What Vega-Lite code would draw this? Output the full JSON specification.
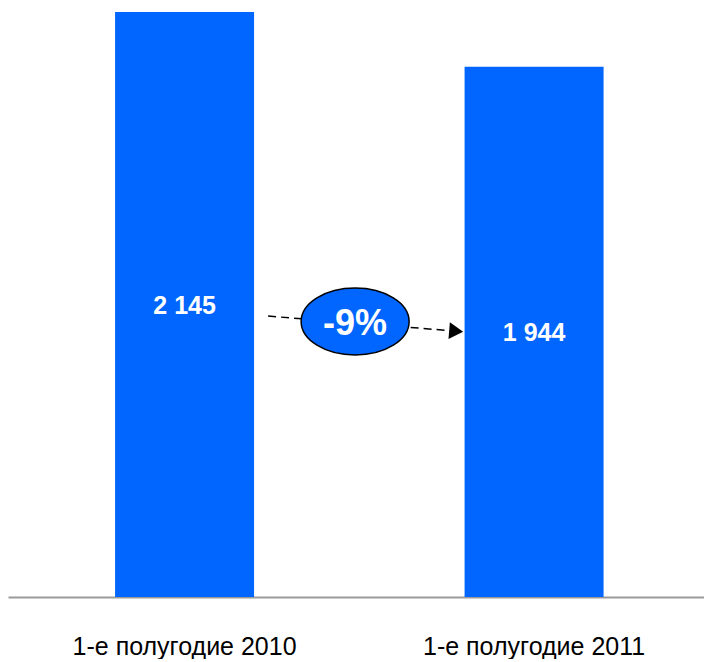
{
  "$schema": "https://vega.github.io/schema/vega-lite/v6.json",
  "width": 696,
  "height": 597,
  "padding": {"left": 8, "top": 0, "right": 0, "bottom": 0},
  "autosize": {"type": "pad"},
  "background": "white",
  "config": {"view": {"stroke": null}},
  "datasets": {
    "bars": [
      {"period": "1-е полугодие 2010", "value": 2145, "label": "2 145"},
      {"period": "1-е полугодие 2011", "value": 1944, "label": "1 944"}
    ],
    "note": [
      {"x": 0.239, "y": 1030, "x2": 0.757, "y2": 977, "ax": 0.777, "ay": 975, "cx": 0.488, "cy": 1010, "text": "-9%"}
    ]
  },
  "layer": [
    {
      "data": {"name": "bars"},
      "transform": [{"calculate": "datum.value / 2", "as": "mid"}],
      "encoding": {
        "x": {
          "field": "period",
          "type": "nominal",
          "sort": null,
          "scale": {"paddingInner": 0.6023, "paddingOuter": 0.2968, "align": 0.516},
          "axis": {
            "title": null,
            "ticks": false,
            "labelAngle": 0,
            "domainColor": "#9a9a9a",
            "domainWidth": 2,
            "labelFont": "Liberation Sans, Arial, sans-serif",
            "labelFontSize": 25,
            "labelLimit": 0,
            "labelColor": "#000000",
            "labelPadding": 37
          }
        }
      },
      "layer": [
        {
          "mark": {"type": "bar", "color": "#0066ff"},
          "encoding": {
            "y": {"field": "value", "type": "quantitative", "scale": {"domain": [0, 2189], "nice": false, "zero": true}, "axis": null}
          }
        },
        {
          "mark": {"type": "text", "color": "white", "font": "Liberation Sans, Arial, sans-serif", "fontWeight": "bold", "fontSize": 25, "baseline": "middle", "align": "center", "dy": 1},
          "encoding": {
            "y": {"field": "mid", "type": "quantitative"},
            "text": {"field": "label"}
          }
        }
      ]
    },
    {
      "data": {"name": "note"},
      "layer": [
        {
          "mark": {"type": "rule", "color": "black", "strokeWidth": 1.5, "strokeDash": [8, 5]},
          "encoding": {
            "x": {"field": "x", "type": "quantitative", "scale": {"domain": [-0.505, 1.486], "nice": false, "zero": false}, "axis": null},
            "x2": {"field": "x2"},
            "y": {"field": "y", "type": "quantitative"},
            "y2": {"field": "y2"}
          }
        },
        {
          "mark": {"type": "point", "shape": "M-1,-1.2L1,0L-1,1.2Z", "size": 196, "filled": true, "color": "black", "opacity": 1, "angle": 4.7},
          "encoding": {
            "x": {"field": "ax", "type": "quantitative", "scale": {"domain": [-0.505, 1.486], "nice": false, "zero": false}, "axis": null},
            "y": {"field": "ay", "type": "quantitative"}
          }
        },
        {
          "mark": {"type": "point", "shape": "M-1,0A1,0.62 0 1,1 1,0A1,0.62 0 1,1 -1,0Z", "size": 11664, "filled": true, "fill": "#0066ff", "stroke": "black", "strokeWidth": 1.5, "opacity": 1, "fillOpacity": 1, "strokeOpacity": 1},
          "encoding": {
            "x": {"field": "cx", "type": "quantitative", "scale": {"domain": [-0.505, 1.486], "nice": false, "zero": false}, "axis": null},
            "y": {"field": "cy", "type": "quantitative"}
          }
        },
        {
          "mark": {"type": "text", "color": "white", "font": "Liberation Sans, Arial, sans-serif", "fontWeight": "bold", "fontSize": 36, "baseline": "middle", "align": "center", "dy": 2},
          "encoding": {
            "x": {"field": "cx", "type": "quantitative", "scale": {"domain": [-0.505, 1.486], "nice": false, "zero": false}, "axis": null},
            "y": {"field": "cy", "type": "quantitative"},
            "text": {"field": "text"}
          }
        }
      ]
    }
  ],
  "resolve": {"scale": {"x": "independent"}}
}
